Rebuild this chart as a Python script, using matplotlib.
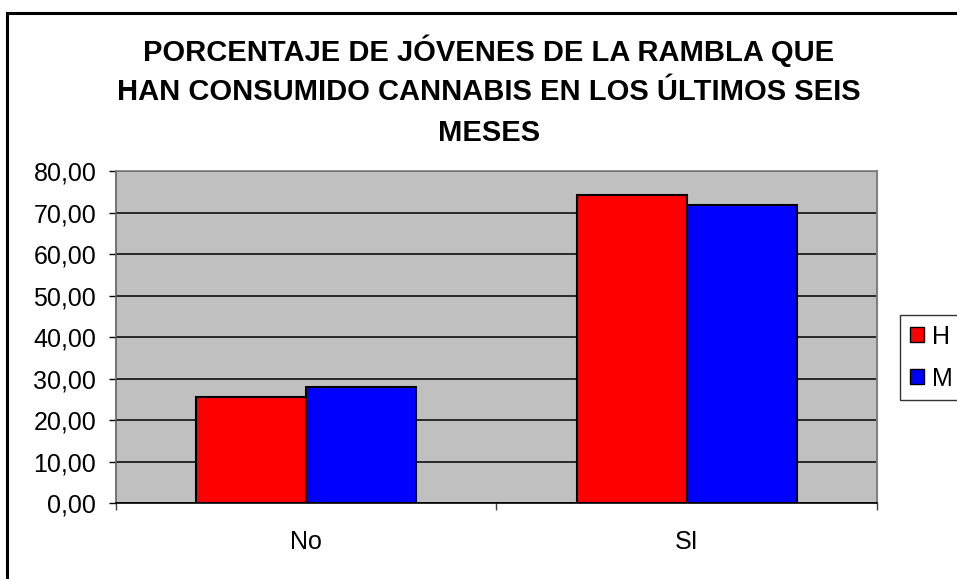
import matplotlib
matplotlib.use("Agg")
import matplotlib.pyplot as plt
from matplotlib.patches import Rectangle
import numpy as np

categories = ["No", "SI"]
series_names = ["H", "M"]
h_values = [25.7, 74.3]
m_values = [28.1, 71.9]
y_ticks = [0, 10, 20, 30, 40, 50, 60, 70, 80]
title_lines = ["PORCENTAJE DE JÓVENES DE LA RAMBLA QUE",
               "HAN CONSUMIDO CANNABIS EN LOS ÚLTIMOS SEIS",
               "MESES"]

plt.rcParams['font.family'] = ['Liberation Sans', 'DejaVu Sans']

W, H = 957, 579
fig = plt.figure(figsize=(W / 100, H / 100), dpi=100)

def fx(px):
    return px / W

def fy(py):
    return 1 - py / H

# outer chart border
fig.patches.append(Rectangle((fx(7), fy(590)), fx(960) - fx(7), fy(13) - fy(590),
                             transform=fig.transFigure, fill=False, edgecolor='black',
                             linewidth=2.2, clip_on=False))

left, right, top, bottom = 115.7, 877, 171, 503.3
ax = fig.add_axes([fx(left), fy(bottom), fx(right) - fx(left), fy(top) - fy(bottom)])
ax.set_facecolor('#c0c0c0')

x = np.arange(len(categories))
bw = 0.289
ax.bar(x - bw / 2, h_values, width=bw, color='#ff0000', edgecolor='black', linewidth=1.5,
       label=series_names[0], zorder=3)
ax.bar(x + bw / 2, m_values, width=bw, color='#0000ff', edgecolor='black', linewidth=1.5,
       label=series_names[1], zorder=3)

fs = 18
ax.set_xlim(-0.5, 1.5)
ax.set_ylim(0, 80)
ax.set_yticks(y_ticks)
ax.set_yticklabels([f"{v:.2f}".replace('.', ',') for v in y_ticks], fontsize=fs)
ax.yaxis.grid(True, color='black', linewidth=1.1, zorder=1)
ax.set_axisbelow(True)

ax.set_xticks([-0.5, 0.5, 1.5])
ax.set_xticklabels([])
ax.set_xticks(x, minor=True)
ax.set_xticklabels(categories, minor=True, fontsize=fs)
ax.tick_params(axis='x', which='minor', length=0, pad=19)
ax.tick_params(axis='x', which='major', length=5, color='#404040', width=1)
ax.tick_params(axis='y', length=5, color='black', width=1, pad=9)

ax.spines['left'].set_color('#606060')
ax.spines['left'].set_linewidth(1.2)
ax.spines['bottom'].set_color('black')
ax.spines['bottom'].set_linewidth(1.2)
ax.spines['top'].set_color('#808080')
ax.spines['top'].set_linewidth(1.2)
ax.spines['right'].set_color('#808080')
ax.spines['right'].set_linewidth(1.5)

for line, yc in zip(title_lines, [48, 89, 130]):
    fig.text(fx(489), fy(yc), line, ha='center', va='center_baseline', fontsize=21,
             fontweight='bold')

leg = fig.legend(loc='upper left', bbox_to_anchor=(fx(900), fy(315)), borderaxespad=0,
                 fontsize=fs, frameon=True, fancybox=False, edgecolor='black',
                 handlelength=0.58, handleheight=0.55, handletextpad=0.3,
                 labelspacing=0.72, borderpad=0.38)
leg.get_frame().set_linewidth(1.0)
for hnd in leg.legend_handles:
    hnd.set_linewidth(1.0)

fig.savefig("out.png", dpi=100)
